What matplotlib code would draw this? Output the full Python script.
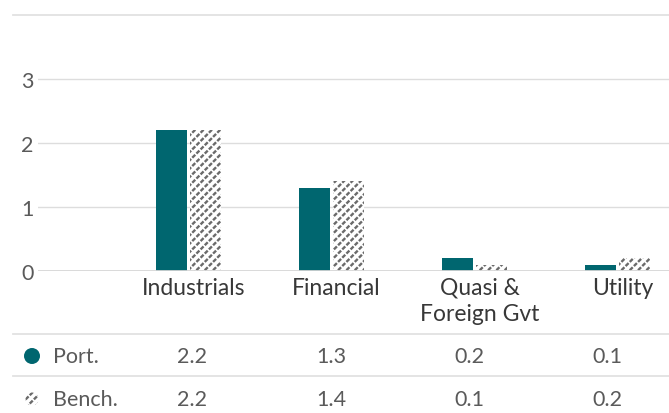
import matplotlib
matplotlib.use("Agg")
import matplotlib.pyplot as plt
from matplotlib.patches import Ellipse
from matplotlib.lines import Line2D
import numpy as np

categories = ["Industrials", "Financial", "Quasi &\nForeign Gvt", "Utility"]
port = [2.2, 1.3, 0.2, 0.1]
bench = [2.2, 1.4, 0.1, 0.2]
series_names = ["Port.", "Bench."]
yticks = [0, 1, 2, 3]

TEAL = "#00666f"
HATCH_C = "#6a6a6a"
GRID = "#dddddd"
TXT = "#5a5a5a"
FONT = "Lato"

plt.rcParams["font.family"] = [FONT, "DejaVu Sans"]

W, H = 669, 414
fig = plt.figure(figsize=(W / 100, H / 100), dpi=100)

def fx(px):
    return px / W

def fy(py):
    return 1 - py / H

ax_l, ax_r, ax_t, ax_b = 38, 669, 16, 272
ax = fig.add_axes([fx(ax_l), fy(ax_b), fx(ax_r - ax_l), (ax_b - ax_t) / H])

x = np.arange(len(categories))
bw = 0.217
off = 0.119
ax.bar(x - off, port, width=bw, color=TEAL, linewidth=0, zorder=3)
plt.rcParams["hatch.linewidth"] = 1.7
ax.bar(x + off, bench, width=bw, color="white", edgecolor=HATCH_C, hatch="////",
       linewidth=0, zorder=3)
plt.rcParams["hatch.linewidth"] = 1.2
ax.bar(x + off, bench, width=bw, facecolor="none", edgecolor="white",
       hatch="\\\\\\\\", linewidth=0, zorder=3.5)

ax.set_ylim(0, 4)
ax.set_xlim(-1.052, 3.36)
ax.set_yticks(yticks)
ax.set_yticklabels([str(v) for v in yticks], fontsize=15.5, color=TXT)
ax.tick_params(axis="y", length=0, pad=3)
ax.set_xticks(x + 0.035)
ax.set_xticklabels(categories, fontsize=16.5, color="#383838", linespacing=1.32,
                   va="top")
ax.tick_params(axis="x", length=0, pad=4)
for s in ax.spines.values():
    s.set_visible(False)
for v in yticks[1:]:
    ax.axhline(v, color=GRID, linewidth=1.0, zorder=1)
ax.axhline(0, color="#d6d6d6", linewidth=2.0, zorder=4)

# figure-level lines: top border and table separators
for py in (16, 335, 377):
    fig.add_artist(Line2D([fx(13), fx(669)], [fy(py), fy(py)], color="#e2e2e2",
                          linewidth=1.3))

# table
col_x = [192, 331, 469, 607]
row_y = [357, 400]
for r, (name, vals) in enumerate(zip(series_names, [port, bench])):
    fig.text(fx(53), fy(row_y[r]), name, fontsize=15.5, color=TXT,
             va="center", ha="left")
    for cx, v in zip(col_x, vals):
        fig.text(fx(cx), fy(row_y[r]), f"{v:.1f}", fontsize=15.5, color=TXT,
                 va="center", ha="center")

# legend markers
fig.add_artist(Ellipse((fx(32), fy(357)), width=16 / W, height=16 / H,
                       transform=fig.transFigure, facecolor=TEAL, edgecolor="none"))
plt.rcParams["hatch.linewidth"] = 1.7
fig.add_artist(Ellipse((fx(32), fy(400)), width=13 / W, height=13 / H,
                       transform=fig.transFigure, facecolor="white",
                       edgecolor=HATCH_C, hatch="////", linewidth=0))
plt.rcParams["hatch.linewidth"] = 1.2
fig.add_artist(Ellipse((fx(32), fy(400)), width=13 / W, height=13 / H,
                       transform=fig.transFigure, facecolor="none",
                       edgecolor="white", hatch="\\\\\\\\", linewidth=0))

fig.savefig("out.png", dpi=100)
